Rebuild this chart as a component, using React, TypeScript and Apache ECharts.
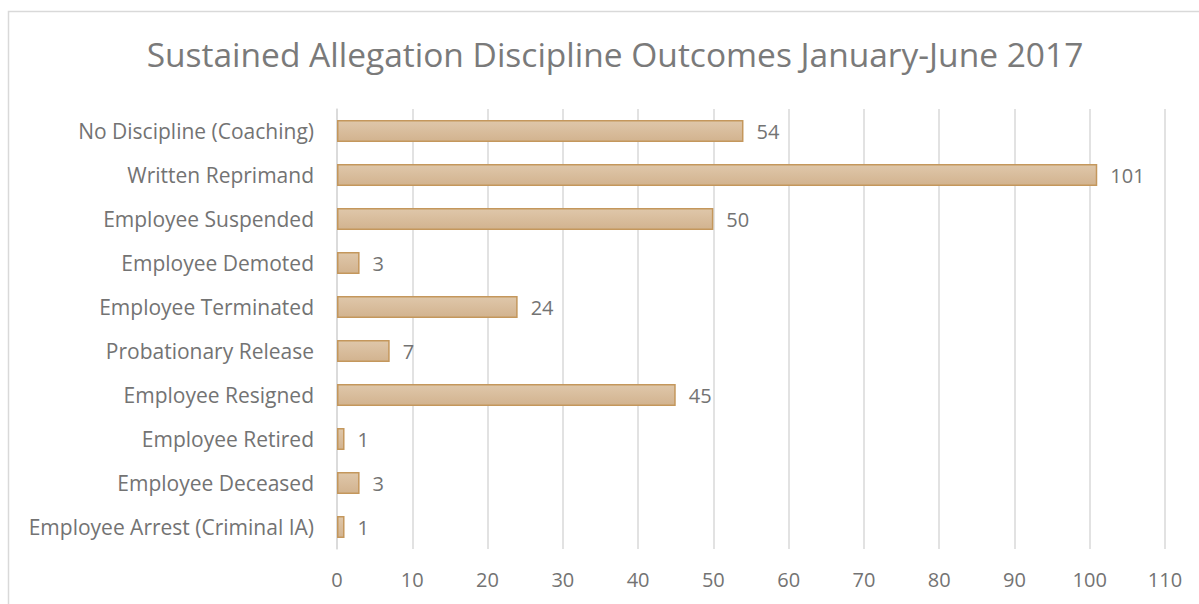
import React, { useEffect, useRef } from "react";
import * as echarts from "echarts";

const categories = [
  "No Discipline (Coaching)",
  "Written Reprimand",
  "Employee Suspended",
  "Employee Demoted",
  "Employee Terminated",
  "Probationary Release",
  "Employee Resigned",
  "Employee Retired",
  "Employee Deceased",
  "Employee Arrest (Criminal IA)",
];
const values = [54, 101, 50, 3, 24, 7, 45, 1, 3, 1];
const xTicks = { min: 0, max: 110, interval: 10 };
const title = "Sustained Allegation Discipline Outcomes January-June 2017";

export default function App() {
  const ref = useRef<HTMLDivElement>(null);
  useEffect(() => {
    const chart = echarts.init(ref.current!, null, { renderer: "svg" });
    const font = "Open Sans, Noto Sans, sans-serif";
    const textColor = "#737373";
    chart.setOption({
      animation: false,
      backgroundColor: "#ffffff",
      textStyle: { fontFamily: font },
      title: {
        text: title,
        left: 610,
        textAlign: "center",
        top: 32,
        textStyle: { fontSize: 33.5, fontWeight: "normal", color: "#7a7a7a", fontFamily: font },
      },
      graphic: [
        {
          type: "rect",
          shape: { x: 8.5, y: 11.5, width: 1300, height: 700 },
          style: { fill: "none", stroke: "#d9d9d9", lineWidth: 1.5 },
          silent: true,
        },
      ],
      grid: { left: 337, right: 34, top: 109, bottom: 55, containLabel: false },
      xAxis: {
        type: "value",
        min: xTicks.min,
        max: xTicks.max,
        interval: xTicks.interval,
        axisLine: { show: false },
        axisTick: { show: false },
        axisLabel: { color: textColor, fontSize: 20, margin: 20, fontFamily: font },
        splitLine: { show: true, lineStyle: { color: "#d9d9d9", width: 1.5 } },
      },
      yAxis: {
        type: "category",
        data: categories,
        inverse: true,
        axisLine: { show: true, lineStyle: { color: "#d9d9d9", width: 1.5 } },
        axisTick: { show: false },
        axisLabel: { color: textColor, fontSize: 21, margin: 23, fontFamily: font },
      },
      series: [
        {
          type: "bar",
          data: values,
          barWidth: "50%",
          itemStyle: {
            color: new echarts.graphic.LinearGradient(0, 0, 0, 1, [
              { offset: 0, color: "#dfc7aa" },
              { offset: 1, color: "#d2b38f" },
            ]),
            borderColor: "#c4975c",
            borderWidth: 1.5,
          },
          label: {
            show: true,
            position: "right",
            distance: 13,
            color: textColor,
            fontSize: 20,
            fontFamily: font,
          },
        },
      ],
    });
    return () => chart.dispose();
  }, []);
  return (
    <div
      ref={ref}
      style={{ position: "absolute", left: 0, top: 0, width: 1199, height: 604 }}
    />
  );
}
